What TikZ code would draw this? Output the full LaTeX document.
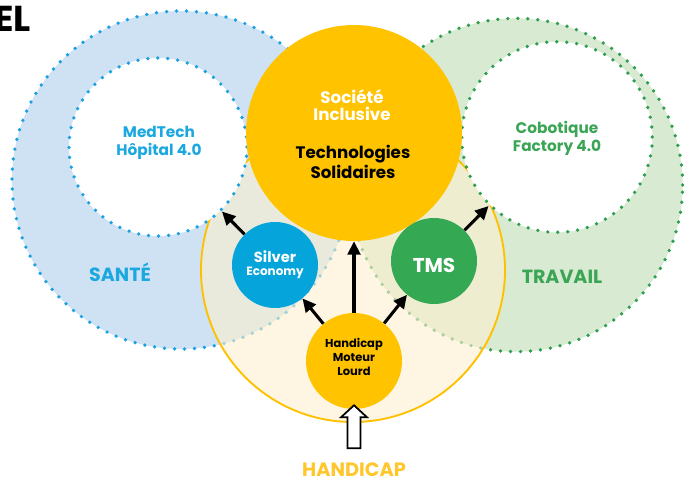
\documentclass[tikz,border=0pt]{standalone}
\usepackage{fontspec}
\setmainfont{Poppins}
\usetikzlibrary{arrows.meta}
\definecolor{bluefill}{HTML}{CFE2F3}
\definecolor{bluedot}{HTML}{1BA1E2}
\definecolor{bluetxt}{HTML}{1BA8E0}
\definecolor{greenfill}{HTML}{D9EAD3}
\definecolor{greendot}{HTML}{2E9E4F}
\definecolor{greentxt}{HTML}{3AA655}
\definecolor{gold}{HTML}{FFC300}
\definecolor{goldline}{HTML}{FFC000}
\definecolor{cream}{HTML}{FDF0CE}
\definecolor{silverc}{HTML}{05A5DC}
\definecolor{tmsc}{HTML}{34A853}
\definecolor{hcptxt}{HTML}{FFC72C}
\begin{document}
\begin{tikzpicture}[x=0.75pt,y=-0.75pt,font=\bfseries,
  dotline/.style={line width=2.8pt,dash pattern=on 0pt off 7.5pt,line cap=round},
  whitecirc/.style={circle,fill=white,dotline,inner sep=0pt},
  disc/.style={circle,fill=#1,minimum size=64.5pt,inner sep=0pt},
  arr/.style={-{Triangle[length=10pt,width=9.5pt]},line width=2.3pt,black},
  lbl/.style={align=center,inner sep=0pt}]
\useasboundingbox (0,0) rectangle (684,482);
\clip (0,0) rectangle (684,482);
% outer domain circles
\fill[bluefill] (181,180) circle[radius=126.75pt];
\draw[dotline,bluedot] (181,180) circle[radius=126.75pt];
\fill[greenfill] (516,185) circle[radius=125pt];
\draw[dotline,greendot] (516,185) circle[radius=125pt];
% handicap circle
\fill[cream,opacity=0.6] (353,270) circle[radius=114pt];
\draw[goldline,line width=1.4pt] (353,270) circle[radius=114pt];
% inner white circles
\node[whitecirc,draw=bluedot,minimum size=133.5pt] (medtech) at (158,147) {};
\node[whitecirc,draw=greendot,minimum size=143pt] (cobot) at (557,137) {};
% central circle
\node[circle,fill=gold,minimum size=162pt,inner sep=0pt] (soc) at (354,133) {};
% small discs
\node[disc=silverc] (silver) at (275,265) {};
\node[disc=tmsc] (tms) at (434,261) {};
\node[circle,fill=gold,minimum size=72pt,inner sep=0pt] (hml) at (354,361) {};
% texts
\node[lbl,anchor=east,font=\bfseries\fontsize{27}{27}\selectfont] (title) at (31,19) {EL};
\node[lbl,bluetxt,font=\bfseries\fontsize{11.5}{13.5}\selectfont] (medtechlbl) at (159,143) {MedTech\\Hôpital 4.0};
\node[lbl,greentxt,font=\bfseries\fontsize{11.5}{13.5}\selectfont] (cobotlbl) at (557,138) {Cobotique\\Factory 4.0};
\node[lbl,white,font=\bfseries\fontsize{12.5}{13.3}\selectfont] (soclbl) at (352,105) {Société\\Inclusive};
\node[lbl,black,font=\bfseries\fontsize{12.5}{13.3}\selectfont] (techlbl) at (353,162) {Technologies\\Solidaires};
\node[lbl,white,font=\bfseries\fontsize{11}{12}\selectfont] (silverlbl) at (275,257) {Silver};
\node[lbl,white,font=\bfseries\fontsize{9}{11}\selectfont] (ecolbl) at (275,273) {Economy};
\node[lbl,white,font=\bfseries\fontsize{15}{16}\selectfont] (tmslbl) at (434,265) {TMS};
\node[lbl,black,font=\bfseries\fontsize{8.6}{10.5}\selectfont] (hmllbl) at (354,357) {Handicap\\Moteur\\Lourd};
\node[lbl,bluetxt,font=\bfseries\fontsize{14.3}{15}\selectfont] (sante) at (120,272) {SANTÉ};
\node[lbl,greentxt,font=\bfseries\fontsize{14.3}{15}\selectfont] (travail) at (562,277) {TRAVAIL};
\node[lbl,hcptxt,font=\bfseries\fontsize{14.5}{15}\selectfont] (handicap) at (354,470) {HANDICAP};
% arrows
\draw[arr] (silver) -- (medtech);
\draw[arr] (tms) -- (cobot);
\draw[arr] (hml) -- (silver);
\draw[arr] (hml) -- (tms);
\draw[arr] (hml) -- (soc);
% hollow input arrow
\coordinate (hatip) at ([yshift=3pt]hml.south);
\draw[fill=white,line width=1.3pt,line join=miter] (hatip) -- ++(13,12) -- ++(-6.5,0) -- ++(0,31) -- ++(-13,0) -- ++(0,-31) -- ++(-6.5,0) -- cycle;
\end{tikzpicture}
\end{document}
